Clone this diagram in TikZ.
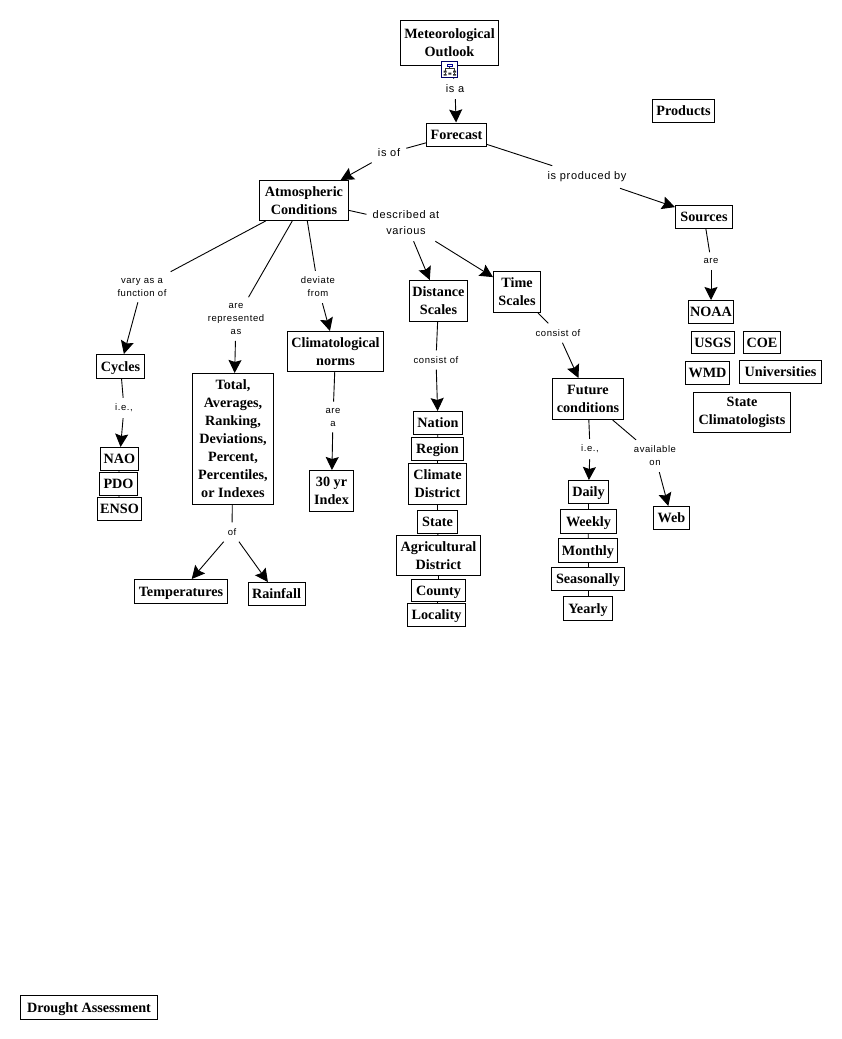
\documentclass[tikz,border=0pt]{standalone}
\usepackage{fontspec}
\setmainfont{Liberation Serif}
\newfontfamily\linkfont[LetterSpace=6]{Liberation Sans}
\usetikzlibrary{arrows.meta}
\tikzset{
  concept/.style={draw=black,line width=1pt,inner sep=0pt,align=center,font=\fontsize{14.2}{18}\selectfont\bfseries},
  single/.style={concept,text height=12pt,text depth=3pt},
  linkbig/.style={inner sep=6pt,align=center,font=\fontsize{11}{16}\selectfont\linkfont},
  linksmall/.style={inner sep=6pt,align=center,font=\fontsize{9.5}{13}\selectfont\linkfont},
  plain/.style={line width=0.9pt},
  tip/.style={line width=0.9pt,-{Stealth[length=13pt,width=13pt,inset=2pt]}}
}
\begin{document}
\begin{tikzpicture}[x=1pt,y=-1pt]
  \useasboundingbox (0,0) rectangle (841,1039);
  % concepts
  \node[concept,minimum width=98,minimum height=45] (outlook) at (449.5,42.5) {Meteorological\\Outlook};
  \node[single,minimum width=60,minimum height=23] (forecast) at (456.5,134.5) {Forecast};
  \node[single,minimum width=62,minimum height=23] (products) at (683.5,111) {Products};
  \node[concept,minimum width=89,minimum height=40] (atmos) at (304,200.5) {Atmospheric\\Conditions};
  \node[single,minimum width=57,minimum height=23] (sources) at (704,217) {Sources};
  \node[concept,minimum width=58,minimum height=41] (distance) at (438.5,301) {Distance\\Scales};
  \node[concept,minimum width=47,minimum height=41] (time) at (517,292) {Time\\Scales};
  \node[single,minimum width=45,minimum height=23] (noaa) at (711,312) {NOAA};
  \node[single,minimum width=43,minimum height=22] (usgs) at (713,342.5) {USGS};
  \node[single,minimum width=37,minimum height=22] (coe) at (762,342.5) {COE};
  \node[single,minimum width=44,minimum height=23] (wmd) at (707.5,373) {WMD};
  \node[single,minimum width=82,minimum height=23] (univ) at (780.5,372) {Universities};
  \node[concept,minimum width=97,minimum height=40] (climatologists) at (742,412.5) {State\\Climatologists};
  \node[single,minimum width=48,minimum height=24] (cycles) at (120.5,366.5) {Cycles};
  \node[concept,minimum width=96,minimum height=40] (norms) at (335.5,351.5) {Climatological\\norms};
  \node[concept,minimum width=81,minimum height=131] (total) at (233,439) {Total,\\Averages,\\Ranking,\\Deviations,\\Percent,\\Percentiles,\\or Indexes};
  \node[concept,minimum width=71,minimum height=41] (future) at (588,399) {Future\\conditions};
  \node[single,minimum width=38,minimum height=23] (nao) at (119.5,459) {NAO};
  \node[single,minimum width=38,minimum height=23] (pdo) at (118.5,484) {PDO};
  \node[single,minimum width=44,minimum height=23] (enso) at (119.5,509) {ENSO};
  \node[concept,minimum width=44,minimum height=41] (index) at (331.5,491) {30 yr\\Index};
  \node[single,minimum width=49,minimum height=23] (nation) at (438,423) {Nation};
  \node[single,minimum width=52,minimum height=23] (region) at (437.5,449) {Region};
  \node[concept,minimum width=58,minimum height=41] (climate) at (437.5,484) {Climate\\District};
  \node[single,minimum width=40,minimum height=23] (state) at (437.5,522) {State};
  \node[concept,minimum width=84,minimum height=40] (agri) at (438.5,555.5) {Agricultural\\District};
  \node[single,minimum width=54,minimum height=22] (county) at (438.5,590.5) {County};
  \node[single,minimum width=58,minimum height=23] (locality) at (436.5,615) {Locality};
  \node[single,minimum width=40,minimum height=23] (daily) at (588.5,492) {Daily};
  \node[single,minimum width=56,minimum height=24] (weekly) at (588.5,521.5) {Weekly};
  \node[single,minimum width=59,minimum height=24] (monthly) at (588,550.5) {Monthly};
  \node[single,minimum width=73,minimum height=23] (seasonally) at (588,579) {Seasonally};
  \node[single,minimum width=49,minimum height=24] (yearly) at (588,608.5) {Yearly};
  \node[single,minimum width=36,minimum height=23] (web) at (671.5,518) {Web};
  \node[single,minimum width=93,minimum height=24] (temps) at (181,591.5) {Temperatures};
  \node[single,minimum width=57,minimum height=23] (rainfall) at (276.5,594) {Rainfall};
  \node[single,minimum width=137,minimum height=24] (drought) at (89,1007.5) {Drought Assessment};
  % link labels
  \node[linkbig] (isa) at (455,89) {is a};
  \node[linkbig] (isof) at (389,153) {is of};
  \node[linkbig] (producedby) at (587,177) {is produced by};
  \node[linkbig] (described) at (406,223) {described at\\various};
  \node[linksmall] (vary) at (142,287) {vary as a\\function of};
  \node[linksmall] (represented) at (236,319) {are\\represented\\as};
  \node[linksmall] (deviate) at (318,287) {deviate\\from};
  \node[linksmall] (are) at (711,261) {are};
  \node[linksmall] (consistd) at (436,360) {consist of};
  \node[linksmall] (consistt) at (558,333) {consist of};
  \node[linksmall] (iec) at (124,408) {i.e.,};
  \node[linksmall] (area) at (333,417) {are\\a};
  \node[linksmall] (of) at (232,532) {of};
  \node[linksmall] (ief) at (590,449) {i.e.,};
  \node[linksmall] (available) at (655,456) {available\\on};
  % connectors
  \draw[plain] (outlook) -- (isa); \draw[tip] (isa) -- (forecast);
  \draw[plain] (forecast) -- (isof); \draw[tip] (isof) -- (atmos);
  \draw[plain] (forecast) -- (producedby); \draw[tip] (producedby) -- (sources);
  \draw[plain] (sources) -- (are); \draw[tip] (are) -- (noaa);
  \draw[plain] (atmos) -- (vary); \draw[tip] (vary) -- (cycles);
  \draw[plain] (atmos) -- (represented); \draw[tip] (represented) -- (total);
  \draw[plain] (atmos) -- (deviate); \draw[tip] (deviate) -- (norms);
  \draw[plain] (atmos) -- (described); \draw[tip] (described) -- (distance); \draw[tip] (described) -- (time);
  \draw[plain] (distance) -- (consistd); \draw[tip] (consistd) -- (nation);
  \draw[plain] (time) -- (consistt); \draw[tip] (consistt) -- (future);
  \draw[plain] (cycles) -- (iec); \draw[tip] (iec) -- (nao);
  \draw[plain] (norms) -- (area); \draw[tip] (area) -- (index);
  \draw[plain] (total) -- (of); \draw[tip] (of) -- (temps); \draw[tip] (of) -- (rainfall);
  \draw[plain] (future) -- (ief); \draw[tip] (ief) -- (daily);
  \draw[plain] (future) -- (available); \draw[tip] (available) -- (web);
  \draw[plain] (nation) -- (region); \draw[plain] (region) -- (climate); \draw[plain] (climate) -- (state);
  \draw[plain] (state) -- (agri); \draw[plain] (agri) -- (county); \draw[plain] (county) -- (locality);
  \draw[plain] (nao) -- (pdo); \draw[plain] (pdo) -- (enso);
  \draw[plain] (daily) -- (weekly); \draw[plain] (weekly) -- (monthly); \draw[plain] (monthly) -- (seasonally); \draw[plain] (seasonally) -- (yearly);
  % submap icon
  \node[draw=black!60!blue,fill=white,line width=0.7pt,minimum width=16,minimum height=16,inner sep=0pt] (icon) at (449.7,69.7) {};
  \draw[blue!60!black,line width=0.7pt] (447.5,64.5) rectangle (452,66.5);
  \draw[black!80,line width=0.5pt] (449.7,66.5) -- (449.7,68.5) (445,70.5) -- (445,68.5) -- (454.5,68.5) -- (454.5,70.5) (445,72.5) -- (445,74) (454.5,72.5) -- (454.5,74);
  \fill[black!80] (443.5,70.5) rectangle (446.5,72.5) (453,70.5) rectangle (456,72.5) (448.3,72.5) rectangle (451.3,74.5) (443.5,74) rectangle (446.5,75.5) (453,74) rectangle (456,75.5);
\end{tikzpicture}
\end{document}
